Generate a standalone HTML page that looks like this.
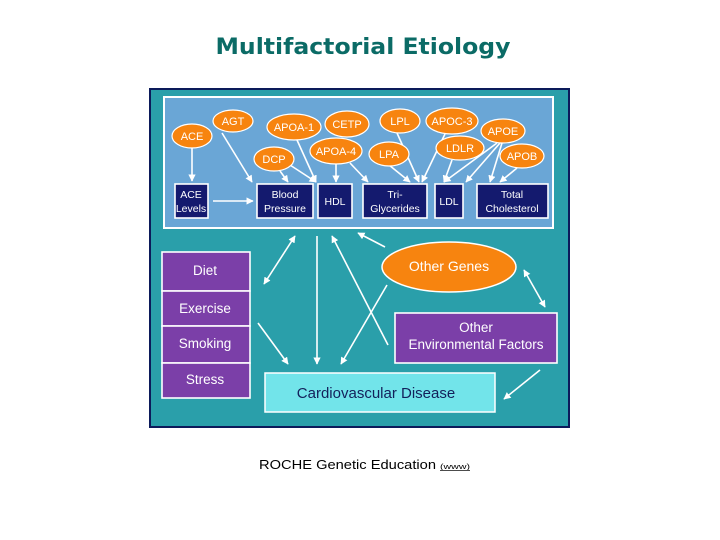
<!DOCTYPE html>
<html><head><meta charset="utf-8"><style>
html,body{margin:0;padding:0;background:#fff;}
svg{display:block;}
</style></head><body>
<svg width="720" height="540" xmlns="http://www.w3.org/2000/svg" font-family="Liberation Sans, sans-serif">
<defs>
<marker id="a" viewBox="0 0 10 10" refX="9" refY="5" markerWidth="4.5" markerHeight="4.5" orient="auto-start-reverse"><path d="M0,0L10,5L0,10z" fill="#fff"/></marker>
</defs>
<text x="363" y="54" text-anchor="middle" font-family="DejaVu Sans, sans-serif" font-weight="bold" font-size="22" fill="#0b6b66" textLength="295" lengthAdjust="spacingAndGlyphs">Multifactorial Etiology</text>

<rect x="150" y="89" width="419" height="338" fill="#2a9faa" stroke="#0c1a5a" stroke-width="2"/>
<rect x="164" y="97" width="389" height="131" fill="#6aa6d6" stroke="#fff" stroke-width="2"/>

<g stroke="#fff" stroke-width="1.6" fill="none" marker-end="url(#a)">
<line x1="192" y1="148" x2="192" y2="181"/>
<line x1="213" y1="201" x2="253" y2="201"/>
<line x1="222" y1="133" x2="252" y2="182"/>
<line x1="280" y1="171" x2="288" y2="182"/>
<line x1="290" y1="165" x2="316" y2="182"/>
<line x1="297" y1="140" x2="316" y2="182"/>
<line x1="336" y1="164" x2="336" y2="182"/>
<line x1="350" y1="163" x2="368" y2="182"/>
<line x1="389" y1="165" x2="410" y2="182"/>
<line x1="397" y1="133" x2="419" y2="182"/>
<line x1="445" y1="134" x2="422" y2="182"/>
<line x1="452" y1="160" x2="444" y2="182"/>
<line x1="497" y1="143" x2="444" y2="182"/>
<line x1="500" y1="143" x2="466" y2="182"/>
<line x1="502" y1="143" x2="490" y2="182"/>
<line x1="517" y1="168" x2="500" y2="182"/>
<line x1="295" y1="236" x2="264" y2="284" marker-start="url(#a)"/>
<line x1="317" y1="236" x2="317" y2="364"/>
<line x1="388" y1="345" x2="332" y2="236"/>
<line x1="385" y1="247" x2="358" y2="233"/>
<line x1="387" y1="285" x2="341" y2="364"/>
<line x1="258" y1="323" x2="288" y2="364"/>
<line x1="524" y1="270" x2="545" y2="307" marker-start="url(#a)"/>
<line x1="540" y1="370" x2="504" y2="399"/>
</g>

<g fill="#f7840f" stroke="#fff" stroke-width="1.2">
<ellipse cx="192" cy="136" rx="20" ry="12"/>
<ellipse cx="233" cy="121" rx="20" ry="11"/>
<ellipse cx="294" cy="127" rx="27" ry="13"/>
<ellipse cx="347" cy="124" rx="22" ry="13"/>
<ellipse cx="400" cy="121" rx="20" ry="12"/>
<ellipse cx="452" cy="121" rx="26" ry="13"/>
<ellipse cx="503" cy="131" rx="22" ry="12"/>
<ellipse cx="274" cy="159" rx="20" ry="12"/>
<ellipse cx="336" cy="151" rx="26" ry="13"/>
<ellipse cx="389" cy="154" rx="20" ry="12"/>
<ellipse cx="460" cy="148" rx="24" ry="12"/>
<ellipse cx="522" cy="156" rx="22" ry="12"/>
<ellipse cx="449" cy="267" rx="67" ry="25" stroke-width="1.5"/>
</g>
<g fill="#fff" font-size="11" text-anchor="middle">
<text x="192" y="140">ACE</text>
<text x="233" y="125">AGT</text>
<text x="294" y="131">APOA-1</text>
<text x="347" y="128">CETP</text>
<text x="400" y="125">LPL</text>
<text x="452" y="125">APOC-3</text>
<text x="503" y="135">APOE</text>
<text x="274" y="163">DCP</text>
<text x="336" y="155">APOA-4</text>
<text x="389" y="158">LPA</text>
<text x="460" y="152">LDLR</text>
<text x="522" y="160">APOB</text>
<text x="449" y="271" font-size="14">Other Genes</text>
</g>

<g fill="#141a6e" stroke="#fff" stroke-width="1.6">
<rect x="175" y="184" width="33" height="34"/>
<rect x="257" y="184" width="56" height="34"/>
<rect x="318" y="184" width="34" height="34"/>
<rect x="363" y="184" width="64" height="34"/>
<rect x="435" y="184" width="28" height="34"/>
<rect x="477" y="184" width="71" height="34"/>
</g>
<g fill="#fff" font-size="10.5" text-anchor="middle">
<text x="191" y="198">ACE</text><text x="191" y="212">Levels</text>
<text x="285" y="198">Blood</text><text x="285" y="212">Pressure</text>
<text x="335" y="205">HDL</text>
<text x="395" y="198">Tri-</text><text x="395" y="212">Glycerides</text>
<text x="449" y="205">LDL</text>
<text x="512" y="198">Total</text><text x="512" y="212">Cholesterol</text>
</g>

<g fill="#7b3fa8" stroke="#fff" stroke-width="1.6">
<rect x="162" y="252" width="88" height="39"/>
<rect x="162" y="291" width="88" height="35"/>
<rect x="162" y="326" width="88" height="37"/>
<rect x="162" y="363" width="88" height="35"/>
<rect x="395" y="313" width="162" height="50"/>
</g>
<rect x="265" y="373" width="230" height="39" fill="#72e4ea" stroke="#fff" stroke-width="1.5"/>
<g fill="#fff" font-size="13.5" text-anchor="middle">
<text x="205" y="275">Diet</text>
<text x="205" y="313">Exercise</text>
<text x="205" y="348">Smoking</text>
<text x="205" y="384">Stress</text>
<text x="476" y="332">Other</text>
<text x="476" y="349">Environmental Factors</text>
</g>
<text x="376" y="398" text-anchor="middle" font-size="15" fill="#13205a">Cardiovascular Disease</text>

<text x="259" y="469" font-size="13" fill="#000" textLength="177" lengthAdjust="spacingAndGlyphs">ROCHE Genetic Education</text>
<text x="440" y="469" font-size="7" fill="#000" text-decoration="underline" textLength="30" lengthAdjust="spacingAndGlyphs">(www)</text>
</svg>
</body></html>
